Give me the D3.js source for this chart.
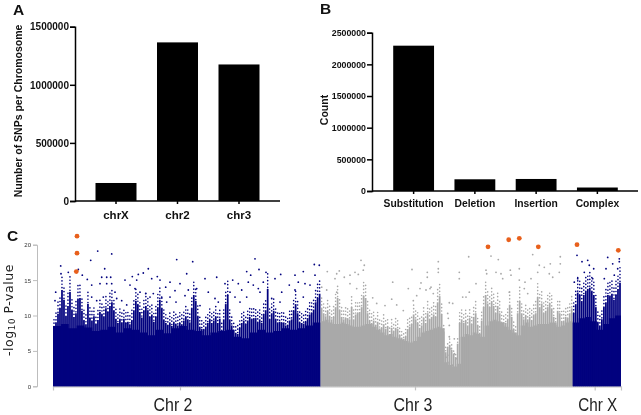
<!DOCTYPE html>
<html><head><meta charset="utf-8">
<script src="https://cdn.jsdelivr.net/npm/d3@7/dist/d3.min.js"></script>
<style>html,body{margin:0;padding:0;background:#fff}svg{display:block;filter:blur(0.25px)}
text{font-family:"Liberation Sans",Arial,sans-serif}</style></head><body>
<svg id="c" width="641" height="415"></svg>
<script>
// Panel A
const chromCats = ["chrX","chr2","chr3"];
const chromSnps = [155000,1365000,1175000];
const chromTicks = [0,500000,1000000,1500000];
// Panel B
const typeCats = ["Substitution","Deletion","Insertion","Complex"];
const typeCounts = [2295000,185000,190000,55000];
const typeTicks = [0,500000,1000000,1500000,2000000,2500000];
// Panel C: position along the concatenated genome, and -log10 P
const genomeLength = 568;
const chr2End = 267.6, chr3End = 519.7;
const manTicks = [0,5,10,15,20];
const chrTickPos = [127,362,541.7];
const chrNames = ["Chr 2","Chr 3","Chr X"];
const chrLabelPos = [120,360,544.7];
const chr2Tops = [9.8,10.5,11.9,12.8,15.8,14.2,11.5,13.2,15.5,12.5,11.4,12.0,14.3,14.5,12.4,10.8,10.2,13.5,11.2,10.8,11.5,10.2,10.9,12.2,11.8,11.5,12.8,12.2,13.2,13.8,12.4,11.1,10.4,11.0,10.5,11.1,10.4,10.6,10.2,10.8,12.5,14.0,13.4,12.2,11.3,12.4,13.2,12.5,11.4,11.8,10.6,11.4,13.0,14.2,12.8,11.0,10.4,10.0,10.5,9.9,10.5,10.3,10.0,10.4,10.2,10.8,11.4,11.0,10.5,12.8,15.0,14.0,11.5,9.8,9.4,9.3,9.8,10.4,11.0,10.4,10.8,11.4,10.4,11.1,9.2,11.0,13.5,15.0,11.0,10.0,9.2,8.8,8.6,9.6,10.4,10.8,10.2,10.8,11.4,11.0,11.2,11.2,10.5,11.0,10.4,11.8,12.5,16.0,11.0,12.0,12.4,11.0,10.5,10.6,10.4,10.5,10.0,10.0,10.8,11.0,12.4,13.5,12.0,10.5,10.4,10.3,10.6,11.2,11.8,12.0,12.6,13.8,14.5,15.2];
const chr3Tops = [12.8,12.0,11.5,12.4,11.6,11.0,11.4,13.0,14.5,12.5,11.4,11.0,11.2,11.2,11.0,13.0,11.0,11.8,12.0,12.2,13.0,14.8,14.5,12.0,10.8,10.4,10.8,10.0,10.6,9.5,9.6,10.2,9.4,9.8,8.6,9.6,9.0,9.6,9.4,8.4,8.0,7.8,8.2,9.4,9.8,10.2,11.8,11.0,10.4,9.6,10.0,11.2,10.4,12.0,11.0,11.4,11.8,11.4,13.8,14.8,11.8,9.0,5.6,6.4,6.8,6.0,5.2,4.8,7.0,10.4,11.0,10.4,10.8,10.0,11.2,10.2,11.4,12.0,10.0,8.8,10.8,13.0,15.0,13.6,13.0,14.0,13.2,12.0,13.2,12.0,10.5,10.0,10.4,11.0,13.4,11.4,9.4,8.8,12.0,14.0,12.0,11.0,11.6,11.0,11.4,10.8,11.8,12.0,14.6,13.0,13.6,12.0,12.4,13.0,13.6,12.8,11.4,10.0,12.4,12.0,10.6,10.8,11.4,11.2,12.0,12.8];
const chrXTops = [12.0,13.5,15.4,15.0,14.0,15.0,15.6,16.0,16.2,15.6,15.0,13.0,10.5,10.0,11.0,13.0,13.8,15.0,14.8,15.2,14.2,15.0,16.0,17.0];
const chr2Floor = [8.5,8.8,8.2,8.6,8.3,7.8,8.0,8.4,7.6,8.2,8.0,7.6,7.2,8.0,7.5,8.2,8.5,8.0,7.8,7.2,7.6,7.8,8.0,7.0,6.8,7.6,8.0,7.6,7.8,8.2,8.0,8.2,8.6,9.0];
const chr3Floor = [9.2,9.4,9.0,8.8,8.8,9,8.8,8.6,8.4,8.4,8.6,8.8,8.8,8.4,8,7.6,7.2,7.4,7,6.8,6.6,6.4,6.2,6.4,7,7.6,7.8,8,8.2,8.4,8.2,3.4,3.0,2.8,3.2,7,7.4,7.2,7.6,7.4,7,8.6,9.2,9.4,9.2,9,8.4,8,7.6,7.2,8.6,9,8.4,8.6,8.8,8.8,8.8,9,9,8.4,8.6,9,9.2];
const chrXFloor = [9,9.6,9.8,9.2,8,8.8,9.6,10];
const chr2Points = [[7.7,17.0],[44.7,19.1],[58.7,18.7],[37.7,17.8],[123.7,17.9],[139.7,17.6],[51.7,16.6],[25.3,16.5],[15.3,16.1],[8,15.9],[95.3,16.6],[90.3,16.0],[85.3,15.8],[79.3,15.5],[104.3,15.5],[133.7,15.9],[163.7,15.4],[152,15.2],[117,14.7],[127,14.5],[72,15],[57.7,15.4],[48.7,15.4],[53.7,15.4],[34.3,15.1],[38.7,14.3],[29.3,15.7],[2.7,13.3],[2,12.1],[47,14.5],[53.7,14.5],[58.7,14.5],[82,13.8],[87,13.3],[92.7,13.1],[97,12.6],[100.3,13.1],[112.7,14.0],[122,13.5],[135.3,13.6],[143.7,13.8],[155.3,13.3],[162,12.4],[165.3,11.9],[63.7,12.4],[68.7,12.1],[73.7,11.5],[113.7,11.9],[123,11.9],[132,12.8],[147,11.4],[38.7,12.6],[43.7,12.1],[50.3,12.6],[62,13.3],[108.7,12.6],[117,12.6],[77,14.3],[83.7,15],[98.7,15.2],[107,15],[202,18],[206,16.5],[213,16.1],[227.7,15.8],[222,15.2],[250.3,16.2],[242,15.7],[261.3,17.2],[266.3,17.1],[193.7,16.2],[197.7,15.7],[179.7,15],[172,14.5],[185.3,14.5],[195.3,14.7],[200.3,14.3],[210.3,14.7],[236.3,14.3],[245.3,14.7],[252,14.5],[257,14.3],[262,15.7],[188.7,13.6],[177,13.3],[207,13.3],[228.7,13.3],[242,13.6],[187,11.9],[193.7,12.6],[205.3,13.8],[218.7,12.4],[250.3,12.6],[227,11.9],[182,12.6]];
const chr3Points = [[308,17.8],[311.3,17.1],[310.3,16.4],[274.3,16.2],[283.7,15.9],[286.3,16.3],[282,15.2],[291.3,15.4],[297,15.7],[302,16.1],[305.3,15.8],[359,16.5],[339.7,14.7],[368,14.6],[374.3,16.1],[374.3,15.4],[385.3,17.6],[385.3,16.6],[385.3,16.1],[268.7,14],[273.7,13.6],[283.7,13.3],[297,14.5],[303.7,13.8],[319.7,12.5],[323.7,11.7],[332,11.4],[338.7,12.3],[343.7,11.5],[350.3,10.7],[355.3,13.8],[363.7,12.8],[367,13.8],[377,13.8],[380.3,13.1],[360.3,12.1],[378,14],[373,13.6],[415.7,18.3],[406.3,16.1],[406.3,15.2],[396.3,11.8],[399.7,11.7],[394.7,10.3],[395.3,9.6],[396.3,8.6],[401.3,6.7],[396.3,7],[398,5.3],[401.3,4.6],[394.7,4.4],[403,3.9],[393,4.1],[396.3,3.4],[399.7,3],[423,14.5],[416.3,13.3],[413,12.6],[409.7,12.6],[438,18.4],[445.3,17.9],[433,16.4],[433.7,15.9],[443,16.1],[448,15.9],[449.7,15.2],[457.3,16.4],[466.3,16.6],[458,15.7],[466.3,15],[456.3,13.3],[479.7,18.6],[507.3,18.3],[486.3,17.1],[491.3,16.8],[497.3,17.3],[484.7,16.1],[507.3,17.3],[506.3,16.1],[472,14.7],[478,15.2],[471.3,13.8],[474.7,13.1],[496.3,15.9],[499.7,15.4]];
const chrXPoints = [[524,18.5],[534.7,17.8],[529,17.6],[536.3,17.1],[540.7,16.6],[554.7,18.2],[553,16.6],[559.7,17.3],[564.7,16.6],[566.3,18],[566.3,17.6],[531.3,16.1],[524.7,15.2],[539.7,15.2],[551.3,15.2],[561.3,15.7],[521.3,14.7]];
const hitPoints = [[24,21.2],[24,18.8],[23.3,16.2],[435,19.7],[455.7,20.7],[466.3,20.9],[485.3,19.7],[524,20],[565.3,19.2]];

const navy="#02027f", grey="#a9a9a9", orange="#e8601c";
const svg=d3.select("#c");
const fmt=d3.format("d");

function barPanel(o){
  const g=svg.append("g");
  const x=d3.scaleBand().domain(o.cats).range(o.xr).paddingInner(1/3).paddingOuter(1/6);
  const y=d3.scaleLinear().domain([0,o.max]).range(o.yr);
  g.selectAll("rect").data(o.vals).join("rect")
    .attr("x",(d,i)=>x(o.cats[i])).attr("width",x.bandwidth())
    .attr("y",d=>y(d)).attr("height",d=>y(0)-y(d)).attr("fill","#000");
  const ay=g.append("g").attr("transform",`translate(${o.ax},0)`)
    .call(d3.axisLeft(y).tickValues(o.ticks).tickFormat(fmt).tickSize(o.tickY).tickPadding(1));
  const ax=g.append("g").attr("transform",`translate(0,${o.yr[0]})`)
    .call(d3.axisBottom(x).tickSize(3).tickPadding(o.padX));
  ax.select(".domain").attr("d",`M${o.ax},0H${o.axEnd}`);
  [ax,ay].forEach(a=>{a.selectAll("path,line").attr("stroke","#000").attr("stroke-width",1.5);
    a.selectAll("text").attr("fill","#111").attr("font-weight","bold").attr("font-family",'"Liberation Sans",Arial,sans-serif');});
  ay.selectAll("text").attr("font-size",o.fsY);
  ax.selectAll("text").attr("font-size",o.fsX);
  g.append("text").attr("transform",`translate(${o.labX},${o.labY}) rotate(-90)`)
    .attr("text-anchor","middle").attr("font-weight","bold").attr("font-size",o.fsL).attr("fill","#111").text(o.label);
}
barPanel({cats:chromCats,vals:chromSnps,ticks:chromTicks,max:1500000,xr:[85.25,269.75],yr:[201,26.7],ax:75,axEnd:280,
  tickY:5,padX:7,fsY:10,fsX:11.5,fsL:10.5,labX:22,labY:111,label:"Number of SNPs per Chromosome"});
barPanel({cats:typeCats,vals:typeCounts,ticks:typeTicks,max:2500000,xr:[383,628],yr:[191,32.7],ax:372,axEnd:638,
  tickY:5,padX:6,fsY:8.8,fsX:10.3,fsL:10.5,labX:328,labY:110,label:"Count"});

[["A",13,15],["B",320,14],["C",7,241]].forEach(([t,px,py])=>
  svg.append("text").attr("x",px).attr("y",py).attr("font-weight","bold").attr("font-size",15.5).attr("fill","#111").text(t));

// Panel C
const mx=d3.scaleLinear().domain([0,genomeLength]).range([53,621]);
const my=d3.scaleLinear().domain([0,20]).range([386.3,244.7]);
const gC=svg.append("g");
const yA=gC.append("g").attr("transform","translate(37,0)").call(d3.axisLeft(my).tickValues(manTicks).tickSize(4).tickPadding(2));
yA.selectAll("path,line").attr("stroke","#bdbdbd");
yA.selectAll("text").attr("font-size",6).attr("fill","#333").attr("font-family",'"Liberation Sans",Arial,sans-serif');
const xA=gC.append("g").attr("transform","translate(0,386.4)").call(d3.axisBottom(mx).tickValues(chrTickPos).tickFormat("").tickSize(4));
xA.selectAll("path,line").attr("stroke","#c4c4c4").attr("stroke-width",1.2);

function chrom(tops,floor,pts,s,e,col){
  const g=gC.append("g");
  const fp=d3.scaleLinear().domain([0,floor.length]).range([s,e]);
  const area=d3.area().x((d,i)=>mx(fp(i))).y0(my(0)).y1(d=>my(d)).curve(d3.curveStepAfter);
  g.append("path").attr("d",area([...floor,floor[floor.length-1]])).attr("fill",col);
  const tp=d3.scaleLinear().domain([-0.5,tops.length-0.5]).range([s,e]);
  const solid=g.append("g").attr("stroke",col).attr("stroke-width",1.75);
  solid.selectAll("line").data(tops).join("line")
    .attr("x1",(d,i)=>mx(tp(i))).attr("x2",(d,i)=>mx(tp(i)))
    .attr("y1",my(0)).attr("y2",d=>my(d*0.86));
  const dots=g.append("g").attr("stroke",col).attr("stroke-width",1.6).attr("stroke-linecap","round").attr("stroke-dasharray","0.1 3.3");
  dots.selectAll("line").data(tops).join("line")
    .attr("stroke-dashoffset",(d,i)=>(i*7)%3)
    .attr("x1",(d,i)=>mx(tp(i))).attr("x2",(d,i)=>mx(tp(i)))
    .attr("y1",d=>my(d*0.86)).attr("y2",d=>my(d));
  g.append("g").selectAll("circle").data(pts).join("circle")
    .attr("cx",d=>mx(d[0])).attr("cy",d=>my(d[1])).attr("r",0.9).attr("fill",col);
}
chrom(chr2Tops,chr2Floor,chr2Points,0,chr2End,navy);
chrom(chr3Tops,chr3Floor,chr3Points,chr2End,chr3End,grey);
chrom(chrXTops,chrXFloor,chrXPoints,chr3End,genomeLength,navy);

gC.append("g").selectAll("circle").data(hitPoints).join("circle")
  .attr("cx",d=>mx(d[0])).attr("cy",d=>my(d[1])).attr("r",2.4).attr("fill",orange);

gC.append("text").attr("transform","translate(13,310) rotate(-90)").attr("text-anchor","middle")
  .attr("font-size",13).attr("letter-spacing",0.6).attr("fill","#222").style("font-family",'"DejaVu Sans",sans-serif').attr("textLength",92).attr("lengthAdjust","spacingAndGlyphs")
  .html('-log<tspan font-size="9" dy="2">10</tspan><tspan dy="-2"> P-value</tspan>');
chrNames.forEach((n,i)=>gC.append("text").attr("x",mx(chrLabelPos[i])).attr("y",410.5).attr("text-anchor","middle")
  .attr("font-size",19).attr("fill","#222").style("font-family",'"Liberation Sans",sans-serif')
  .attr("textLength",39).attr("lengthAdjust","spacingAndGlyphs").text(n));
</script></body></html>
